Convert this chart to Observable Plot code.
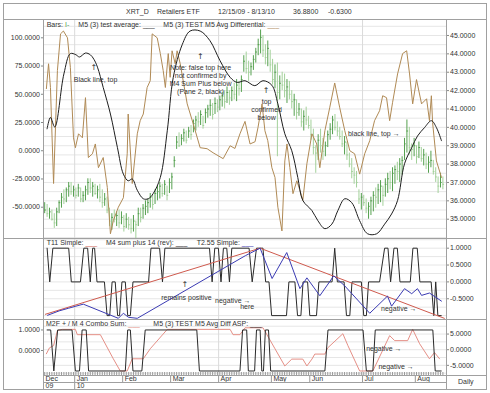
<!DOCTYPE html>
<html><head><meta charset="utf-8">
<script src="https://cdn.jsdelivr.net/npm/d3@7"></script>
<script src="https://cdn.jsdelivr.net/npm/@observablehq/plot@0.6"></script>
<style>
body{margin:0;background:#fff;}
#c{position:relative;width:490px;height:393px;font-family:"Liberation Sans",Arial,Helvetica,sans-serif;font-size:7px;color:#333;overflow:hidden;background:#fff}
#c svg{position:absolute;left:0;overflow:visible}
.t{position:absolute;white-space:pre;line-height:8px;height:8px}
</style></head><body><div id="c"></div><script>
// ---------- DATA (trading-day index 0..166, 12/15/09 - 8/13/10) ----------
const lows = [35.3,35.1,35.0,34.9,34.5,34.6,35.3,35.6,35.8,35.9,36.2,36.3,36.2,36.1,36.2,35.9,35.9,36.0,36.3,36.4,
36.2,36.3,36.1,35.9,35.6,35.7,35.3,34.6,34.4,34.8,34.6,34.5,34.7,34.3,34.5,34.4,34.2,34.3,33.9,34.6,
34.8,35.0,35.2,35.3,35.6,35.5,35.8,36.0,36.1,36.2,36.3,36.0,36.4,36.6,37.8,38.8,38.9,39.0,39.2,39.1,
39.4,39.3,39.7,39.8,40.0,40.1,39.9,40.2,40.5,40.6,40.4,40.7,40.8,40.9,41.1,41.0,41.3,41.2,41.4,41.5,
41.4,41.7,41.9,43.0,42.9,42.5,42.8,43.1,43.5,43.9,44.0,43.8,43.4,43.3,43.0,42.3,42.1,38.4,41.5,42.0,
41.6,41.3,41.5,41.0,40.6,40.4,40.6,40.0,39.8,40.1,39.9,39.3,38.5,37.5,38.2,38.6,38.2,38.4,38.9,39.3,
39.6,39.8,39.5,39.3,38.9,38.5,38.2,37.8,37.2,36.9,36.7,35.8,35.5,35.7,35.3,35.0,35.2,35.4,35.6,35.8,
35.9,35.7,36.2,36.4,36.6,36.5,36.9,37.1,37.0,37.4,38.2,38.6,38.5,38.2,38.4,38.0,38.3,38.1,37.9,37.7,
37.5,37.8,37.4,37.0,36.4,36.7,36.6];
const highs = [35.9,35.8,35.6,35.5,35.3,35.6,36.0,36.4,36.6,36.7,37.0,37.0,36.8,36.7,36.9,36.7,36.5,36.8,37.2,37.2,
37.0,36.9,36.8,36.9,36.6,36.4,36.2,35.6,35.3,35.5,35.4,35.5,35.4,35.2,35.3,35.1,35.0,35.2,34.9,35.6,
35.6,35.8,36.0,36.1,36.4,36.3,36.6,36.8,37.0,36.9,37.1,36.8,37.2,37.5,38.4,39.5,39.7,39.6,39.9,39.8,
40.0,40.1,40.4,40.6,40.8,40.9,40.6,41.0,41.2,41.5,41.3,41.6,41.5,41.7,41.9,42.0,42.2,42.0,42.2,42.4,
42.6,42.5,42.8,43.9,44.1,43.6,43.5,43.9,44.3,44.8,45.3,45.0,44.5,44.7,44.2,43.7,43.4,43.5,42.8,43.0,
42.9,42.6,42.5,42.0,41.8,41.5,41.3,41.0,40.9,41.1,40.6,40.4,39.9,39.0,39.6,39.9,39.4,39.2,39.8,40.2,
40.6,40.7,40.3,40.0,39.8,39.5,39.2,38.6,38.3,37.8,37.6,36.6,36.4,36.3,36.1,35.9,36.2,36.5,36.7,36.9,
37.1,36.8,37.2,37.5,37.6,37.8,37.9,38.1,38.3,38.4,39.4,40.4,40.0,39.1,39.4,39.0,39.2,38.9,38.8,38.6,
38.4,38.7,38.2,37.8,37.3,37.5,37.3];
const closes = [35.5,35.3,35.4,35.0,34.8,35.4,35.9,36.2,36.1,36.6,36.8,36.5,36.6,36.3,36.7,36.1,36.3,36.6,37.0,36.7,
36.8,36.4,36.6,36.2,35.9,36.1,35.5,34.9,35.1,35.0,35.2,34.8,35.1,34.6,35.0,34.7,34.5,34.9,34.7,35.3,
35.1,35.6,35.7,35.9,36.2,35.8,36.4,36.5,36.8,36.4,36.9,36.3,37.0,37.3,38.2,39.2,39.0,39.4,39.7,39.3,
39.8,39.6,40.2,40.4,40.3,40.7,40.1,40.8,41.0,41.2,40.7,41.3,41.1,41.5,41.7,41.4,41.9,41.6,42.0,41.8,
42.3,42.1,42.6,43.6,43.2,43.0,43.3,43.7,44.1,44.5,44.9,44.2,43.8,44.3,43.4,42.6,43.0,41.9,42.4,42.3,
42.0,42.2,41.8,41.4,41.5,40.8,41.0,40.3,40.6,40.4,40.1,39.6,38.9,38.6,39.3,39.0,38.7,39.0,39.6,39.9,
40.4,40.0,39.8,39.5,39.1,39.2,38.5,38.0,37.6,37.4,37.0,36.1,36.2,35.9,35.6,35.7,36.0,36.3,36.2,36.6,
36.8,36.3,36.9,37.2,37.0,37.5,37.7,37.6,38.0,38.2,39.1,39.8,38.9,38.8,39.0,38.4,38.9,38.3,38.5,38.0,
38.1,38.2,37.6,37.3,36.8,37.0,36.9];
// M5 (3) test average (black, left scale)
const testAverage = [[1,19.4],[2.4,29.5],[4.2,21],[8,68],[10.7,86],[13,85],[14.5,83],[17,86.5],[19,85],[20.5,81],
[22,74],[24.4,56],[27.4,32.5],[30.3,3],[32.8,-20.7],[34.8,-26.6],[36.5,-25],[38.6,-35],[41.1,-42.5],[43.2,-42.5],
[45.2,-38],[48.2,-23.6],[51.1,17.7],[53.6,65],[57.3,93.8],[60.6,106],[64.8,106],[68.9,97.4],[73.1,79.7],[77.3,65],
[80.2,60.5],[83.5,62],[87.6,57.6],[91,62],[94.7,58],[97.2,41.5],[100.1,15],[103,0],[105.5,-23.6],[107.6,-44],
[111.4,-53],[113.9,-62],[116.8,-69],[119.7,-65],[122.2,-53],[125.1,-42.5],[128,-46],[131.3,-62],[134.6,-73.5],[138.4,-73.5],
[141.7,-65],[144.6,-56],[147.1,-44],[150,-11.5],[153,2.7],[155.4,13],[158.3,20.4],[161.2,26.6],[163.3,20.5],[165.4,8.9]];
// M5 (3) TEST M5 Avg Differential (brown, left scale)
const avgDifferential = [[0.7,55],[1.6,77],[2.4,56],[3.7,-29],[5.3,71],[6.6,103.5],[7.8,106],[9.5,100],[10.7,73.8],[12,11.5],
[12.8,2.7],[14.1,15],[15.7,11.5],[17,47],[18.2,-6],[19.9,-2.7],[21.1,6],[22.4,-15],[24.4,-6],[26.1,-32.5],
[27.4,-73.5],[28.6,-62],[30.7,-50],[32.8,-41.6],[34.4,-2.7],[34.8,32.5],[36.5,-29],[38.6,15],[39.8,26.6],[41.1,32.5],
[42.7,56],[44,62],[44.8,103.5],[46.9,100],[48.2,86],[49.4,71],[50.3,56],[51.5,86],[52.3,65],[53.1,88.5],
[54.4,77],[55.2,88.5],[56.5,77],[59.4,41.5],[61.9,24],[64.8,2.7],[67.7,1.8],[70.2,-1.8],[74.4,-7],[77.3,4.4],
[79.3,2],[81.4,15],[83.5,26],[85.6,6],[87.7,8],[88.9,20.4],[90.6,41.5],[91.8,17.7],[93,8.9],[94.7,-15],
[96,-23.6],[97.2,-50],[98.9,-71],[100.1,-9],[101,6],[102.2,-15],[103.5,-38],[105.1,-26.6],[106.4,-35],[107.6,-44],
[109.3,-11.5],[111.4,15],[113.4,6],[114.7,-15],[116.8,17.7],[118.8,38],[120.9,60],[123,38],[125.1,17.7],[127.2,0],
[129.2,-2.7],[131.3,-20.7],[133.4,-2.7],[135.5,8.9],[137.5,26.6],[139.6,35.4],[140.9,48.7],[142.5,47],[143.8,26.6],[145,42.5],
[147.1,68],[149.2,86],[150.9,88.5],[152.1,68],[153.4,41.5],[155,63],[157.1,41.5],[159.2,46],[160.4,26.6],[161.2,48.7],
[161.7,25],[163.3,-9],[165.4,-23.6]];
// Pane 2
const t11Simple = [[0.3,-0.96],[89.8,1.0],[166.6,-1.08]];
const m4SumPlus14 = [[1,1],[2.1,0],[3.4,1],[10,1],[11.1,0],[14.9,0],[16.3,1],[17.9,1],[19,0],[20,1],
[20.8,1],[21.8,0],[24.9,0],[26,-1],[27.1,-1],[28.1,0],[29.4,0],[30.4,-1],[31.2,-1],[32.2,0],
[33.6,0],[34.6,-1],[35.7,-1],[36.8,0],[43.3,0],[44.3,1],[47.9,1],[49.1,0],[50.1,1],[68.7,1],
[69.8,0],[70.9,1],[72.4,1],[73.5,0],[74.5,1],[75.9,1],[77,0],[78,1],[85.2,1],[86.5,0],
[88.3,1],[91,1],[92.1,0],[93.5,0],[94.6,-1],[100.8,-1],[101.8,0],[104.3,0],[105.4,-1],[106.8,-1],
[107.7,0],[109.6,0],[110.5,-1],[113.3,-1],[114.3,0],[119.8,0],[120.9,1],[122,0],[124.8,0],[125.8,-1],
[127.2,-1],[128.1,0],[132,0],[133,-1],[134.1,-1],[135,0],[139.6,0],[141.7,1],[143.1,1],[144.2,0],
[145.6,1],[147,1],[148.1,0],[152.4,0],[153.5,1],[155.3,1],[156.4,0],[161.1,0],[162.2,-1],[163,0],
[163.9,-1],[165.3,-1]];
const t255Simple = [[1.2,-0.99],[6,-0.86],[10,-0.78],[13,-0.72],[16.1,-0.66],[30.7,-1.08],[32.8,-0.93],[34.9,-1.05],[38.6,-1.08],[83.7,0.78],
[89.8,1.0],[94.8,0.1],[100.9,0.87],[106.4,-0.2],[109.3,0.12],[114.7,-0.41],[120.5,0.18],[125.1,-0.12],[135.5,-0.93],[142.9,-0.42],
[144.6,-0.72],[150,-0.2],[153,-0.35],[155.4,-0.2],[157.1,-0.4],[160.4,-0.33],[165.4,-0.57]];
// Pane 3
const comboSum = [[0.7,-1.3],[2,0.6],[3.7,1.3],[5.3,6.1],[7.4,6.5],[12.8,6.5],[13.6,4.8],[23.2,4.8],[28.6,-2.9],[31.5,-6.8],
[34.4,-6.8],[36.5,-2.9],[41.1,-2.9],[44,0.3],[51.1,6.5],[77.3,6.5],[78.5,4.8],[81.4,4.8],[83.5,7],[91,7],
[96,0.3],[100.1,-5.2],[103,-3],[107.6,-3],[109.3,-5.2],[111.4,-3],[112.6,-1.4],[116.8,-1.4],[118,0.6],[124.3,5.1],
[126.4,1.3],[131.3,-6.8],[136.8,-6.8],[143.8,4.5],[145.9,2.9],[151.3,2.9],[153.4,6.5],[156.3,1.9],[160.4,-2.9],[162.5,-0.9],
[164.6,-2.9]];
const avgDiffASP = [[1,1],[2.5,1],[3.8,-1],[5.4,1],[11.4,1],[12.8,-1],[14.5,-1],[15.6,1],[17.3,1],[18.3,-1],
[33.6,-1],[34.6,1],[35.7,1],[36.8,-1],[40.5,-1],[41.9,1],[63.4,1],[64.5,-1],[81.4,-1],[82.5,1],
[84.2,1],[84.9,-1],[87.5,-1],[88.3,1],[89.8,1],[90.5,-1],[91.2,-1],[92,1],[93.3,1],[94.2,-1],
[116.8,-1],[118.1,1],[132.7,1],[134.1,-1],[136.8,-1],[137.8,1],[161.8,1],[162.8,-1],[165.3,-1]];
// axis ticks and labels
const leftTicks1 = [-50,-25,0,25,50,75,100];
const rightTicks1 = [35,36,37,38,39,40,41,42,43,44,45];
const rightTicks2 = [-0.5,0,0.5,1];
const leftTicks3 = [0,1];
const rightTicks3 = [-5,0,5];
const monthLabels = ["Dec","Jan","Feb","Mar","Apr","May","Jun","Jul","Aug"];
const monthStarts = [-0.5,12.5,32.5,52.5,72.5,94.5,110.5,132.5,154.5];
const yearLabels = ["09","10"];
const yearStarts = [-0.5,12.5];
const quarterStarts = [12.5,72.5,132.5];
const notes1 = [
  {d:21.2,v:62.8,t:"Black line, top",a:"middle"},
  {d:65.0,v:63.0,t:"Note: false top here\nnot confirmed by\nM4 Sum Plus below\n(Pane 2, black)",a:"middle"},
  {d:92.5,v:36.7,t:"top\nconfirmed\nbelow",a:"middle"},
  {d:137.2,v:15.5,t:"black line, top →",a:"start"}];
const arrows1 = [{d:20.5,v:73.5},{d:64.9,v:83.5},{d:92.3,v:53.5}];
const notes2 = [
  {d:59.1,v:-0.45,t:"remains positive",a:"middle"},
  {d:78.4,v:-0.55,t:"negative →",a:"start"},
  {d:84.4,v:-0.74,t:"here",a:"middle"},
  {d:147.6,v:-0.78,t:"negative →",a:"start"}];
const arrows2 = [{d:58.4,v:-0.07}];
const notes3 = [
  {d:141.4,v:0.11,t:"negative →",a:"start"},
  {d:146.5,v:-0.78,t:"negative →",a:"start"}];

// ---------- DRAWING ----------
const c = document.getElementById("c");
const FONT = '"Liberation Sans", Arial, Helvetica, sans-serif';
const days = d3.range(lows.length);
const bars = days.map(i => ({d:i, low:lows[i], high:highs[i], close:closes[i],
  col: (i === 0 || closes[i] >= closes[i-1]) ? "#55a04f" : "#a3d19a"}));
const fmt = d => d.toFixed(4);
const GRID = "#e6e6e6";

function addPlot(top, height, ydom, marks) {
  const svg = Plot.plot({
    width: 490, height, marginLeft: 43, marginRight: 44, marginTop: 0, marginBottom: 0,
    x: {domain: [-0.5, 167.5], axis: null},
    y: {domain: ydom, axis: null},
    color: {type: "identity"},
    style: {background: "transparent", fontFamily: FONT, fontSize: "7px", color: "#333", overflow: "visible"},
    marks
  });
  svg.style.top = top + "px";
  c.appendChild(svg);
}
const ax = (ticks, anchor) => Plot.axisY(ticks, {anchor, label: null, tickFormat: fmt, tickSize: 2, tickPadding: 1.5, fontSize: 7, stroke: "#888"});
const txtMarks = (notes) => Plot.text(notes, {x: "d", y: "v", text: "t", textAnchor: "a", lineHeight: 1.12, fontSize: 7, fill: "#333"});
const arrowMarks = (pts) => Plot.text(pts, {x: "d", y: "v", text: () => "↑", fontSize: 8, fontFamily: "DejaVu Sans", fill: "#333"});

// Pane 1 - price bars (right scale)
addPlot(19, 219, [33.95, 45.87], [
  Plot.gridY(d3.range(34, 46, 0.5), {stroke: GRID, strokeOpacity: 1}),
  Plot.ruleX(quarterStarts, {stroke: "#dadada"}),
  Plot.ruleX(bars, {x: "d", y1: "low", y2: "high", stroke: "col", strokeWidth: 1}),
  Plot.ruleY(bars, {y: "close", x1: "d", x2: b => b.d + 0.7, stroke: "col", strokeWidth: 1}),
  ax(rightTicks1, "right")
]);
// Pane 1 - oscillators (left scale)
addPlot(19, 219, [-77.7, 116.2], [
  Plot.line(avgDifferential, {x: d => d[0], y: d => d[1], stroke: "#b08a55", strokeWidth: 1}),
  Plot.line(testAverage, {x: d => d[0], y: d => d[1], stroke: "#1e1e1e", strokeWidth: 1, curve: "catmull-rom"}),
  ax(leftTicks1, "left"),
  txtMarks(notes1),
  arrowMarks(arrows1)
]);
// Pane 2
addPlot(238, 81, [-1.115, 1.287], [
  Plot.gridY(d3.range(-1, 1.3, 0.25), {stroke: GRID, strokeOpacity: 1}),
  Plot.ruleX(quarterStarts, {stroke: "#dadada"}),
  Plot.line(m4SumPlus14, {x: d => d[0], y: d => d[1], stroke: "#2a2a2a", strokeWidth: 1}),
  Plot.line(t11Simple, {x: d => d[0], y: d => d[1], stroke: "#cf5a4e", strokeWidth: 1}),
  Plot.line(t255Simple, {x: d => d[0], y: d => d[1], stroke: "#3b3bb3", strokeWidth: 1}),
  ax(rightTicks2, "right"),
  txtMarks(notes2),
  arrowMarks(arrows2)
]);
// Pane 3 - combo sum (right scale)
addPlot(319, 56, [-8.24, 9.65], [
  Plot.gridY([-7.5, -5, -2.5, 0, 2.5, 5, 7.5], {stroke: GRID, strokeOpacity: 1}),
  Plot.ruleX(quarterStarts, {stroke: "#dadada"}),
  Plot.line(comboSum, {x: d => d[0], y: d => d[1], stroke: "#e58f86", strokeWidth: 1}),
  Plot.tickX(days, {x: d => d, insetTop: 53, stroke: "#999"}),
  ax(rightTicks3, "right")
]);
// Pane 3 - ASP (left scale)
addPlot(319, 56, [-1.22, 1.51], [
  Plot.line(avgDiffASP, {x: d => d[0], y: d => d[1], stroke: "#2a2a2a", strokeWidth: 1}),
  ax(leftTicks3, "left"),
  txtMarks(notes3)
]);
// Date axis
const months = monthLabels.map((m, i) => ({m, d: monthStarts[i]}));
const years = yearLabels.map((m, i) => ({m, d: yearStarts[i]}));
addPlot(375, 14, [0, 2], [
  Plot.ruleX(months.slice(1), {x: "d", y1: 1, y2: 2, stroke: "#999"}),
  Plot.ruleX(years.slice(1), {x: "d", y1: 0, y2: 1, stroke: "#999"}),
  Plot.text(months, {x: "d", y: 1.5, text: "m", textAnchor: "start", dx: 2, fontSize: 7, fill: "#333"}),
  Plot.text(years, {x: "d", y: 0.5, text: "m", textAnchor: "start", dx: 2, fontSize: 7, fill: "#333"})
]);

// Frame
const fr = d3.create("svg").attr("width", 490).attr("height", 393).style("top", "0px");
const L = (x1, y1, x2, y2) => fr.append("line").attr("x1", x1).attr("y1", y1).attr("x2", x2).attr("y2", y2).attr("stroke", "#a0a0a0");
fr.append("rect").attr("x", 3.5).attr("y", 3.5).attr("width", 483).attr("height", 386).attr("fill", "none").attr("stroke", "#a0a0a0");
L(3.5, 19.5, 486.5, 19.5);
L(43.5, 19.5, 43.5, 389.5);
L(446.5, 19.5, 446.5, 389.5);
L(3.5, 238.5, 486.5, 238.5);
L(3.5, 319.5, 486.5, 319.5);
L(43.5, 375.5, 486.5, 375.5);
L(43.5, 382.5, 446.5, 382.5);
c.appendChild(fr.node());

// Texts: title, legends (each label flows into its coloured sample line)
function T(x, yc, s, color, swatch) {
  const el = document.createElement("div");
  el.className = "t";
  el.style.left = x + "px"; el.style.top = (yc - 4) + "px";
  el.appendChild(document.createTextNode(s));
  if (swatch) {
    const sp = document.createElement("span");
    sp.textContent = swatch; sp.style.color = color;
    el.appendChild(sp);
  } else if (color) el.style.color = color;
  c.appendChild(el);
}
T(126, 11.7, "XRT_D"); T(157, 11.7, "Retailers ETF"); T(218, 11.7, "12/15/09 - 8/13/10");
T(293, 11.7, "36.8800"); T(328, 11.7, "-0.6300");
T(46.7, 25.3, "Bars: ", "#55a04f", "I-");
T(78.3, 25.3, "M5 (3) test average: ", "#1e1e1e", "___");
T(163.3, 25.3, "M5 (3) TEST M5 Avg Differential: ", "#b08a55", "___");
T(46.7, 243.3, "T11 Simple: ", "#cf5a4e", "___");
T(106, 243.3, "M4 sum plus 14 (rev): ", "#2a2a2a", "___");
T(196.7, 243.3, "T2.55 Simple: ", "#3b3bb3", "___");
T(46, 323.7, "M2F + / M 4 Combo Sum: ", "#e58f86", "___");
T(153.3, 323.7, "M5 (3) TEST M5 Avg Diff ASP: ", "#2a2a2a", "___");
T(458, 382.3, "Daily");
</script></body></html>
